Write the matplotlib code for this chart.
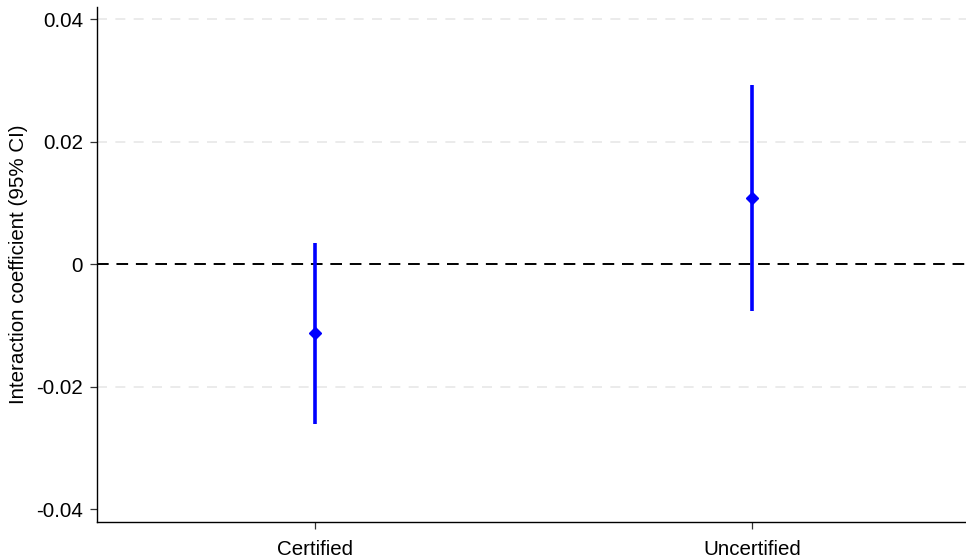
import matplotlib
matplotlib.use("Agg")
import matplotlib.pyplot as plt

# Interaction coefficients with 95% confidence intervals
groups = ["Certified", "Uncertified"]
coef = [-0.0112, 0.0108]
ci_low = [-0.0260, -0.0076]
ci_high = [0.0035, 0.0292]
yticks = [-0.04, -0.02, 0, 0.02, 0.04]
ytick_labels = ["-0.04", "-0.02", "0", "0.02", "0.04"]

plt.rcParams["font.family"] = ["Liberation Sans", "DejaVu Sans"]
fs = 14.8

fig = plt.figure(figsize=(9.66, 5.59), dpi=100)
ax = fig.add_axes([0.1004, 0.067, 0.8996, 0.9205])

# light horizontal grid
for y in [0.04, 0.02, -0.02]:
    ax.axhline(y, color="#e8e8e8", lw=1.2, ls=(0, (6, 5)), zorder=0)
ax.axhline(0, color="black", lw=1.4, ls=(0, (6, 4)), zorder=1)

xpos = [1, 2]
ax.vlines(xpos, ci_low, ci_high, color="#0000ff", lw=2.6, zorder=2)
ax.plot(xpos, coef, ls="none", marker="D", ms=6, color="#0000ff", zorder=3)

ax.set_xlim(0.5, 2.49)
ax.set_ylim(-0.042, 0.042)
ax.set_xticks(xpos)
ax.set_xticklabels(groups, fontsize=fs)
ax.set_yticks(yticks)
ax.set_yticklabels(ytick_labels, fontsize=fs)
ax.set_ylabel("Interaction coefficient (95% CI)", fontsize=fs, labelpad=6)

for s in ["top", "right"]:
    ax.spines[s].set_visible(False)
for s in ["left", "bottom"]:
    ax.spines[s].set_linewidth(1.0)
ax.tick_params(axis="both", direction="out", length=5, width=0.9, color="#333333")
ax.tick_params(axis="x", pad=8)
ax.tick_params(axis="y", pad=5)

fig.savefig("out.png", dpi=100)
